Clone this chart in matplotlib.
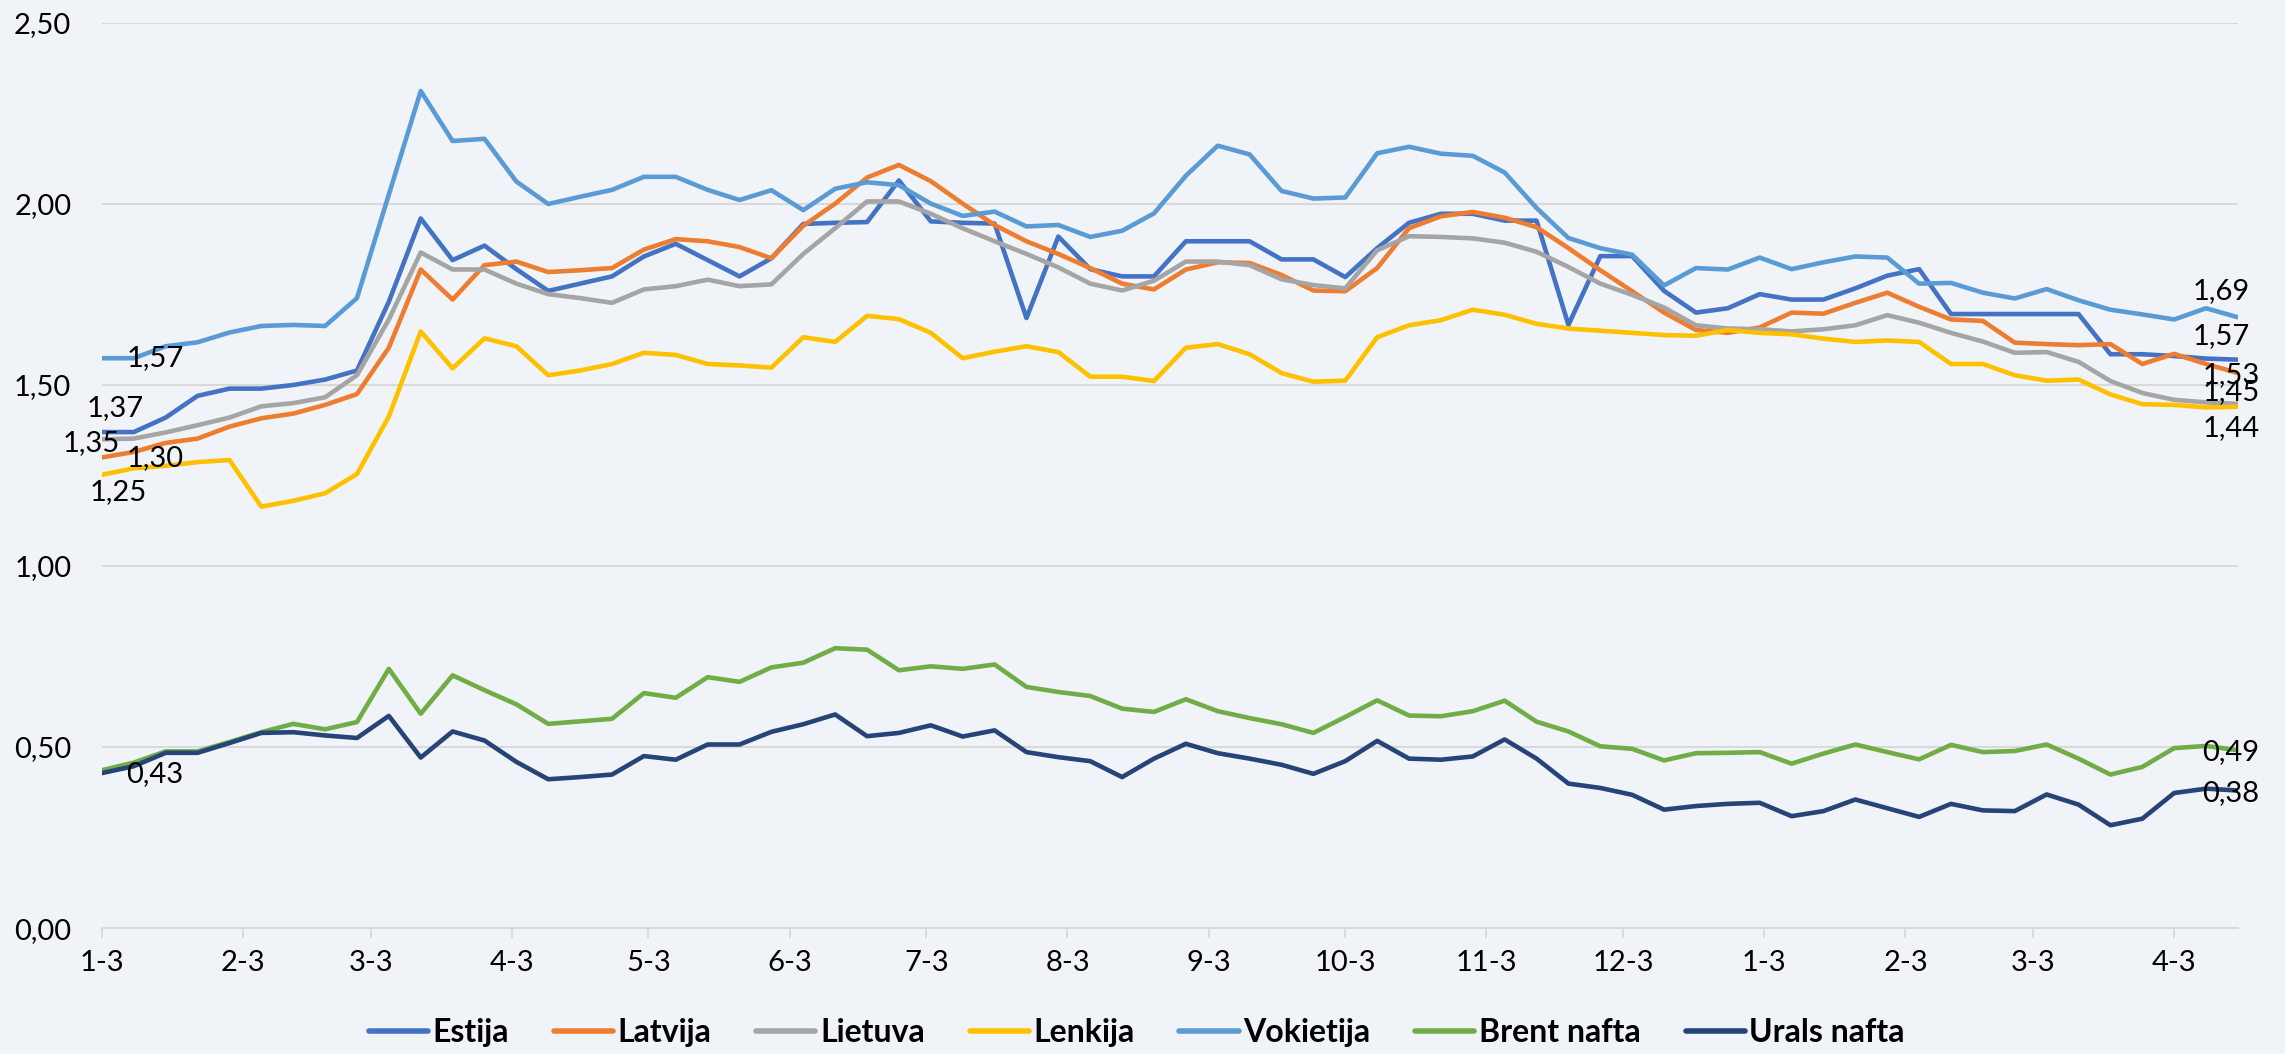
import numpy as np
import pandas as pd
import matplotlib
matplotlib.use("Agg")
import matplotlib.pyplot as plt
from matplotlib.ticker import FuncFormatter

plt.rcParams['font.family'] = ['Lato', 'DejaVu Sans']

# weekly dates, first point 2022-01-03
dates = pd.date_range('2022-01-03', periods=68, freq='7D')
tick_dates = pd.date_range('2022-01-03', '2023-04-03', freq=pd.DateOffset(months=1))
tick_labels = ['1-3', '2-3', '3-3', '4-3', '5-3', '6-3', '7-3', '8-3', '9-3',
               '10-3', '11-3', '12-3', '1-3', '2-3', '3-3', '4-3']

estija = [1.37, 1.37, 1.41, 1.47, 1.49, 1.49, 1.50, 1.515, 1.54, 1.73,
          1.96, 1.845, 1.885, 1.82, 1.76, 1.78, 1.80, 1.855, 1.89, 1.845,
          1.80, 1.85, 1.945, 1.948, 1.95, 2.065, 1.952, 1.948, 1.946, 1.685,
          1.91, 1.82, 1.80, 1.80, 1.897, 1.897, 1.897, 1.847, 1.847, 1.798,
          1.878, 1.948, 1.973, 1.973, 1.954, 1.954, 1.666, 1.856, 1.856, 1.76,
          1.70, 1.712, 1.751, 1.736, 1.736, 1.767, 1.802, 1.82, 1.696, 1.696,
          1.696, 1.696, 1.696, 1.585, 1.585, 1.58, 1.573, 1.57]
latvija = [1.30, 1.315, 1.34, 1.352, 1.385, 1.408, 1.421, 1.445, 1.475, 1.603,
           1.819, 1.736, 1.831, 1.841, 1.812, 1.817, 1.823, 1.874, 1.903, 1.897,
           1.881, 1.85, 1.94, 2.001, 2.073, 2.108, 2.063, 2.001, 1.942, 1.897,
           1.862, 1.823, 1.78, 1.764, 1.819, 1.839, 1.837, 1.804, 1.761, 1.759,
           1.823, 1.933, 1.966, 1.978, 1.962, 1.936, 1.878, 1.817, 1.759, 1.70,
           1.652, 1.644, 1.659, 1.70, 1.697, 1.727, 1.755, 1.716, 1.681, 1.677,
           1.617, 1.613, 1.61, 1.613, 1.558, 1.586, 1.558, 1.533]
lietuva = [1.35, 1.352, 1.369, 1.389, 1.41, 1.441, 1.45, 1.466, 1.527, 1.681,
           1.866, 1.819, 1.819, 1.78, 1.751, 1.74, 1.727, 1.764, 1.773, 1.791,
           1.773, 1.778, 1.862, 1.933, 2.007, 2.007, 1.973, 1.933, 1.897, 1.862,
           1.825, 1.78, 1.761, 1.788, 1.841, 1.841, 1.831, 1.792, 1.776, 1.767,
           1.872, 1.911, 1.909, 1.905, 1.893, 1.868, 1.826, 1.78, 1.749, 1.714,
           1.665, 1.656, 1.654, 1.648, 1.654, 1.665, 1.693, 1.672, 1.644, 1.62,
           1.589, 1.591, 1.564, 1.511, 1.478, 1.459, 1.452, 1.448]
lenkija = [1.252, 1.27, 1.277, 1.287, 1.293, 1.164, 1.18, 1.201, 1.254, 1.413,
           1.648, 1.546, 1.629, 1.607, 1.527, 1.54, 1.558, 1.589, 1.583, 1.558,
           1.554, 1.548, 1.632, 1.619, 1.691, 1.682, 1.644, 1.574, 1.592, 1.607,
           1.591, 1.523, 1.523, 1.511, 1.603, 1.613, 1.585, 1.533, 1.509, 1.512,
           1.632, 1.665, 1.679, 1.708, 1.694, 1.669, 1.656, 1.65, 1.644, 1.638,
           1.636, 1.652, 1.644, 1.64, 1.628, 1.619, 1.623, 1.619, 1.558, 1.558,
           1.527, 1.512, 1.515, 1.474, 1.447, 1.445, 1.438, 1.44]
vokietija = [1.574, 1.574, 1.607, 1.618, 1.645, 1.663, 1.666, 1.663, 1.74, 2.026,
             2.312, 2.174, 2.18, 2.062, 2.0, 2.02, 2.039, 2.075, 2.075, 2.039,
             2.011, 2.038, 1.983, 2.042, 2.06, 2.052, 2.001, 1.967, 1.979, 1.938,
             1.942, 1.909, 1.926, 1.974, 2.078, 2.161, 2.137, 2.036, 2.015, 2.018,
             2.14, 2.158, 2.139, 2.133, 2.087, 1.989, 1.906, 1.878, 1.86, 1.775,
             1.823, 1.819, 1.852, 1.82, 1.839, 1.855, 1.852, 1.78, 1.782, 1.755,
             1.739, 1.765, 1.734, 1.708, 1.695, 1.681, 1.712, 1.687]
brent = [0.436, 0.457, 0.488, 0.488, 0.514, 0.541, 0.564, 0.549, 0.569, 0.716,
         0.592, 0.698, 0.657, 0.618, 0.564, 0.571, 0.578, 0.649, 0.636, 0.693,
         0.68, 0.72, 0.733, 0.773, 0.769, 0.712, 0.723, 0.716, 0.728, 0.666,
         0.652, 0.641, 0.606, 0.597, 0.632, 0.599, 0.58, 0.563, 0.539, 0.583,
         0.629, 0.587, 0.585, 0.599, 0.628, 0.57, 0.543, 0.502, 0.495, 0.463,
         0.483, 0.484, 0.486, 0.454, 0.482, 0.507, 0.486, 0.466, 0.506, 0.486,
         0.489, 0.507, 0.468, 0.424, 0.445, 0.497, 0.503, 0.491]
urals = [0.428, 0.447, 0.484, 0.484, 0.511, 0.539, 0.541, 0.532, 0.525, 0.586,
         0.471, 0.543, 0.518, 0.459, 0.411, 0.417, 0.424, 0.475, 0.465, 0.507,
         0.507, 0.542, 0.563, 0.59, 0.53, 0.539, 0.56, 0.529, 0.546, 0.486,
         0.472, 0.461, 0.417, 0.468, 0.509, 0.483, 0.468, 0.451, 0.426, 0.461,
         0.517, 0.468, 0.465, 0.474, 0.521, 0.468, 0.399, 0.387, 0.368, 0.327,
         0.337, 0.343, 0.346, 0.309, 0.323, 0.355, 0.331, 0.307, 0.343, 0.325,
         0.323, 0.369, 0.341, 0.284, 0.302, 0.373, 0.385, 0.38]

names = ['Estija', 'Latvija', 'Lietuva', 'Lenkija', 'Vokietija', 'Brent nafta', 'Urals nafta']
series = [estija, latvija, lietuva, lenkija, vokietija, brent, urals]
colors = ['#4472C4', '#ED7D31', '#A5A5A5', '#FFC000', '#5B9BD5', '#70AD47', '#264478']

# label offsets in pixels (first point, last point); None = no label
start_off = [(13, 24), (53, -1), (-11, -4), (16, -17), (53, 0), None, (53, -1)]
end_off = [(-17, 24), (-7, -2), (-7, 12), (-7, -21), (-17, 26), (-7, -2), (-7, -3)]

bg = '#F0F4F8'
grid_c = '#D9D9D9'

fig = plt.figure(figsize=(22.85, 10.54), dpi=100, facecolor=bg)
ax = fig.add_axes([0.0446, 0.1195, 0.9348, 0.8587])
ax.set_facecolor(bg)

handles = []
for name, vals, c in zip(names, series, colors):
    h, = ax.plot(dates, vals, color=c, lw=3.3, solid_joinstyle='round',
                 solid_capstyle='round', label=name, zorder=3)
    handles.append(h)

def fmt(v):
    return f"{v:.2f}".replace('.', ',')

for vals, so, eo in zip(series, start_off, end_off):
    if so is not None:
        ax.annotate(fmt(vals[0]), (dates[0], vals[0]), xytext=so,
                    textcoords='offset pixels', ha='center', va='center',
                    fontsize=21, color='black', zorder=5, annotation_clip=False)
    ax.annotate(fmt(vals[-1]), (dates[-1], vals[-1]), xytext=eo,
                textcoords='offset pixels', ha='center', va='center',
                fontsize=21, color='black', zorder=5, annotation_clip=False)

ax.set_xlim(dates[0], dates[-1])
ax.set_ylim(0, 2.5)
ax.set_yticks(np.arange(0, 2.51, 0.5))
ax.yaxis.set_major_formatter(FuncFormatter(lambda v, p: fmt(v)))
ax.set_xticks(tick_dates)
ax.set_xticklabels(tick_labels)

ax.grid(axis='y', color=grid_c, lw=1.5, zorder=1)
for s in ['top', 'right', 'left']:
    ax.spines[s].set_visible(False)
ax.spines['bottom'].set_color(grid_c)
ax.spines['bottom'].set_linewidth(1.5)
ax.spines['bottom'].set_zorder(2)

ax.tick_params(axis='y', length=0, pad=22, labelsize=21)
ax.tick_params(axis='x', length=7, width=1.3, color=grid_c, pad=9, labelsize=21)

leg = fig.legend(handles=handles, loc='center', bbox_to_anchor=(0.4975, 0.02), ncol=7,
                 frameon=False, prop={'size': 23, 'weight': 'bold'},
                 handlelength=1.85, handletextpad=0.15, columnspacing=1.4)
for line in leg.get_lines():
    line.set_linewidth(4)

fig.savefig('out.png', dpi=100, facecolor=bg)
